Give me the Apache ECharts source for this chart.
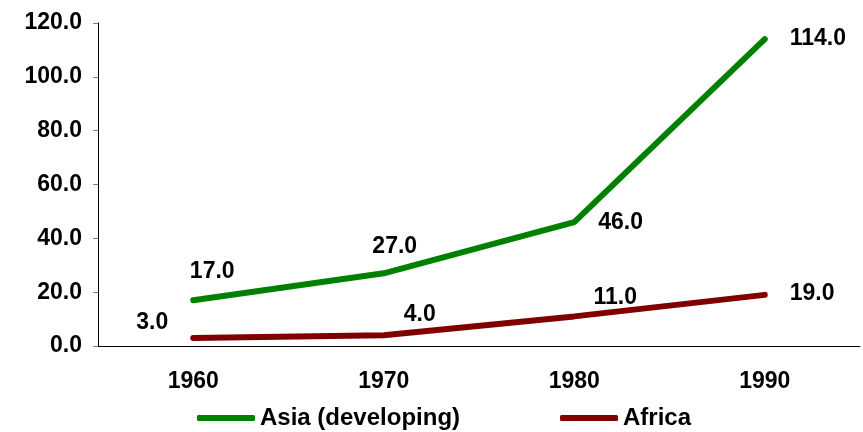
<!DOCTYPE html>
<html>
<head>
<meta charset="utf-8">
<script src="https://cdn.jsdelivr.net/npm/echarts@6/dist/echarts.min.js"></script>
<style>
  html, body { margin: 0; padding: 0; background: #fff; }
  #chart { width: 863px; height: 432px; }
</style>
</head>
<body>
<div id="chart"></div>
<script>
const years = ["1960", "1970", "1980", "1990"];
const asia = [17, 27, 46, 114];
const africa = [3, 4, 11, 19];

// label placement per point: [position, offset]
const asiaLabels = [["top", [19, -12]], ["top", [11, -10]], ["right", [19, 0]], ["right", [20, 0]]];
const africaLabels = [["left", [-20, -15]], ["top", [36, -4]], ["top", [41, -2]], ["right", [20, -1]]];

const font = { fontFamily: "Liberation Sans", fontWeight: "bold", fontSize: 23, color: "#000" };

const withLabels = (values, labels) =>
    values.map((v, i) => ({
        value: v,
        label: { position: labels[i][0], offset: labels[i][1] },
    }));

const chart = echarts.init(document.getElementById("chart"));
chart.setOption({
    animation: false,
    grid: { left: 98, right: 3, top: 23, bottom: 86 },
    legend: {
        top: 406,
        left: 197,
        padding: 0,
        itemWidth: 58,
        itemHeight: 6,
        itemGap: 100,
        icon: "roundRect",
        textStyle: Object.assign({}, font, { fontSize: 24 }),
        data: ["Asia (developing)", "Africa"],
    },
    xAxis: {
        type: "category",
        data: years,
        boundaryGap: true,
        axisLine: { lineStyle: { color: "#000", width: 1 } },
        axisTick: { length: 6, lineStyle: { color: "#000" } },
        axisLabel: Object.assign({ margin: 24 }, font),
    },
    yAxis: {
        type: "value",
        min: 0,
        max: 120,
        interval: 20,
        splitLine: { show: false },
        axisLine: { show: true, lineStyle: { color: "#000", width: 1 } },
        axisTick: { show: true, length: 5, lineStyle: { color: "#808080" } },
        axisLabel: Object.assign({ margin: 16, formatter: (v) => v.toFixed(1) }, font),
    },
    series: [
        {
            name: "Asia (developing)",
            type: "line",
            data: withLabels(asia, asiaLabels),
            symbol: "circle",
            symbolSize: 0,
            showSymbol: true,
            color: "#008000",
            lineStyle: { width: 6, color: "#008000", cap: "round" },
            label: Object.assign({ show: true, formatter: (p) => p.value.toFixed(1) }, font),
        },
        {
            name: "Africa",
            type: "line",
            data: withLabels(africa, africaLabels),
            symbol: "circle",
            symbolSize: 0,
            showSymbol: true,
            color: "#800000",
            lineStyle: { width: 6, color: "#800000", cap: "round" },
            label: Object.assign({ show: true, formatter: (p) => p.value.toFixed(1) }, font),
        },
    ],
});
</script>
</body>
</html>
